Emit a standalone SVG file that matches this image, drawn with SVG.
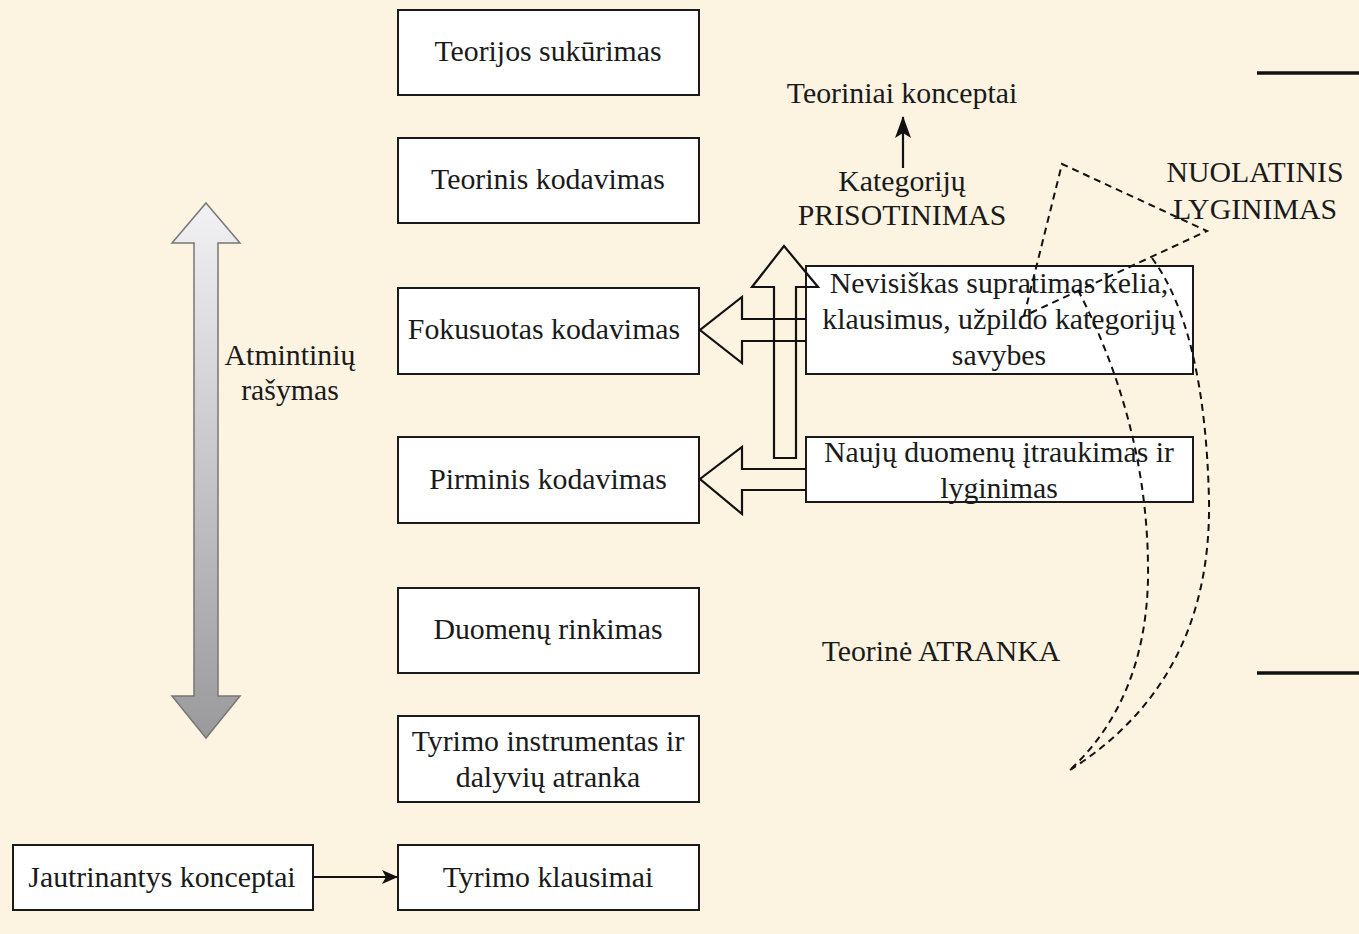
<svg xmlns="http://www.w3.org/2000/svg" width="1359" height="934" viewBox="0 0 1359 934">
<style>
.box{fill:#ffffff;stroke:#1a1a1a;stroke-width:2}
.t{font-family:"Liberation Serif","Times New Roman",serif;font-size:29.8px;fill:#1a1a1a;text-anchor:middle}
.blk{fill:none;stroke:#111;stroke-width:2.2;stroke-linejoin:miter}
.dash{fill:none;stroke:#111;stroke-width:2;stroke-dasharray:7 5}
</style>
<defs>
<linearGradient id="g" x1="0" y1="0" x2="0" y2="1">
<stop offset="0" stop-color="#f2f2f4"/>
<stop offset="1" stop-color="#9a9a9c"/>
</linearGradient>
<marker id="ah2" markerWidth="16" markerHeight="16" refX="15" refY="8" orient="auto" markerUnits="userSpaceOnUse" viewBox="0 0 16 16">
<path d="M0,1 L16,8 L0,15 L4,8 Z" fill="#111"/>
</marker>
<marker id="ah3" markerWidth="22" markerHeight="18" refX="21" refY="9" orient="auto" markerUnits="userSpaceOnUse" viewBox="0 0 22 18">
<path d="M0,1 L22,9 L0,17 L5,9 Z" fill="#111"/>
</marker>
</defs>
<rect width="1359" height="934" fill="#fdf3e1"/>

<g id="memo-arrow">
<path d="M206,203 L240,243 L218,243 L218,696 L240,696 L206,738 L172,696 L194,696 L194,243 L172,243 Z" fill="url(#g)" stroke="#777" stroke-width="1.5"/>
<text class="t" x="290" y="365">Atmintinių</text>
<text class="t" x="290" y="400">rašymas</text>
</g>

<g id="n-teorijos"><rect class="box" x="398" y="10" width="301" height="85"/><text class="t" x="548" y="61">Teorijos sukūrimas</text></g>
<g id="n-teorinis"><rect class="box" x="398" y="138" width="301" height="85"/><text class="t" x="548" y="189">Teorinis kodavimas</text></g>
<g id="n-fokusuotas"><rect class="box" x="398" y="288" width="301" height="86"/><text class="t" x="544" y="339">Fokusuotas kodavimas</text></g>
<g id="n-pirminis"><rect class="box" x="398" y="437" width="301" height="86"/><text class="t" x="548" y="489">Pirminis kodavimas</text></g>
<g id="n-duomenu"><rect class="box" x="398" y="588" width="301" height="85"/><text class="t" x="548" y="639">Duomenų rinkimas</text></g>
<g id="n-tyrimo-instr"><rect class="box" x="398" y="716" width="301" height="86"/><text class="t" x="548" y="751">Tyrimo instrumentas ir</text><text class="t" x="548" y="787">dalyvių atranka</text></g>
<g id="n-klausimai"><rect class="box" x="398" y="845" width="301" height="65"/><text class="t" x="548" y="887">Tyrimo klausimai</text></g>
<g id="n-jautrinantys"><rect class="box" x="13" y="845" width="300" height="65"/><text class="t" x="162" y="887">Jautrinantys konceptai</text></g>

<g id="n-nevisiskas"><rect class="box" x="806" y="266" width="387" height="108"/><text class="t" x="999" y="293">Nevisiškas supratimas kelia,</text><text class="t" x="999" y="329">klausimus, užpildo kategorijų</text><text class="t" x="999" y="365">savybes</text></g>
<g id="n-nauju"><rect class="box" x="806" y="437" width="387" height="65"/><text class="t" x="999" y="462">Naujų duomenų įtraukimas ir</text><text class="t" x="999" y="498">lyginimas</text></g>

<g id="labels">
<text class="t" x="902" y="103">Teoriniai konceptai</text>
<text class="t" x="902" y="191">Kategorijų</text>
<text class="t" x="902" y="225">PRISOTINIMAS</text>
<text class="t" x="1255" y="182">NUOLATINIS</text>
<text class="t" x="1255" y="219">LYGINIMAS</text>
<text class="t" x="941" y="661">Teorinė ATRANKA</text>
</g>

<g id="connectors">
<line x1="313" y1="877" x2="397" y2="877" stroke="#111" stroke-width="2" marker-end="url(#ah2)"/>
<line x1="903" y1="168" x2="903" y2="117" stroke="#111" stroke-width="2.2" marker-end="url(#ah3)"/>
<path class="blk" d="M806,319 L742,319 L742,297 L700,330 L742,363 L742,341 L806,341"/>
<path class="blk" d="M806,469 L742,469 L742,447 L700,479 L742,514 L742,490 L806,490"/>
<path class="blk" d="M774,458 L774,287 L752,287 L784,246 L818,287 L796,287 L796,458 Z"/>
<path class="dash" d="M1024,316 L1062,164 L1207,231 Z"/>
<path class="dash" d="M1078,290 Q1150,430 1148,580 Q1145,700 1070,770"/>
<path class="dash" d="M1152,258 Q1205,330 1209,500 Q1212,680 1070,770"/>
<line x1="1257" y1="73" x2="1359" y2="73" stroke="#111" stroke-width="3.5"/>
<line x1="1257" y1="673" x2="1359" y2="673" stroke="#111" stroke-width="3.5"/>
</g>
</svg>
